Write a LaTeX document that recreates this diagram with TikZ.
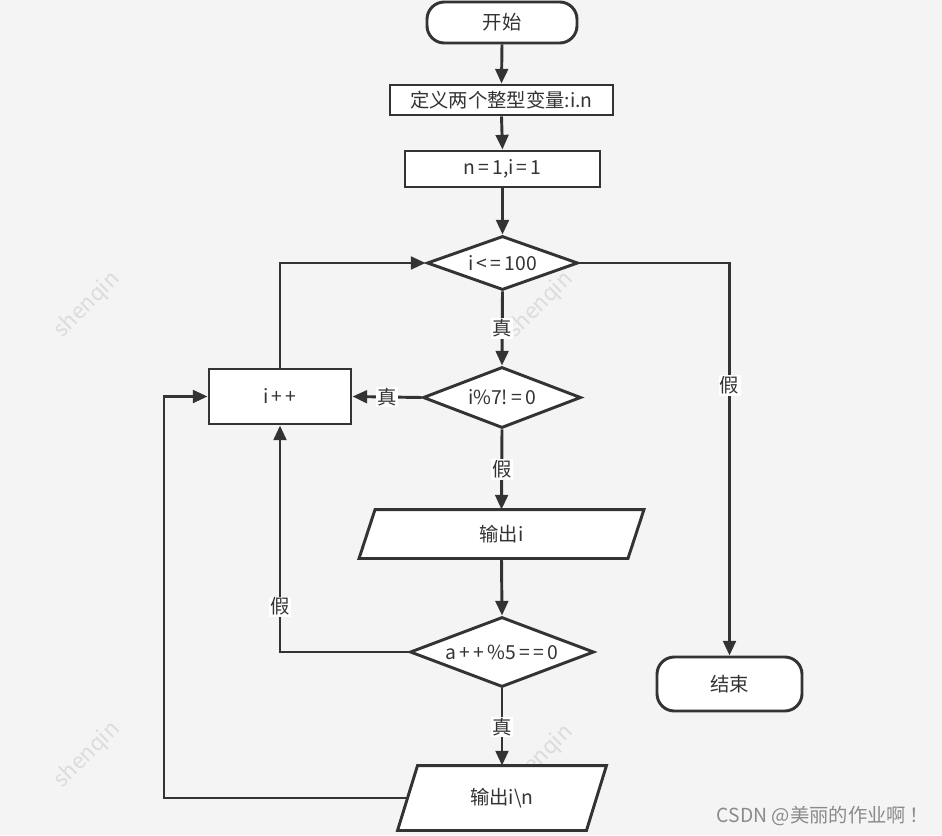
\documentclass[tikz,border=0pt]{standalone}
\usepackage{fontspec}
\setmainfont{Noto Sans CJK SC}
\usetikzlibrary{arrows.meta,shapes.geometric}
\definecolor{bgc}{HTML}{F4F4F4}
\definecolor{ink}{HTML}{333333}
\definecolor{wm}{HTML}{DCDCDC}
\definecolor{csdn}{HTML}{8A8A8A}
\pgfdeclarelayer{back}
\pgfsetlayers{back,main}
\tikzset{
 base/.style={draw=ink, line width=2.2pt, fill=white, text=ink, font=\fontsize{14.5}{17}\selectfont, inner sep=0pt},
 term/.style={base, rectangle, rounded corners=13pt},
 proc/.style={base, rectangle},
 dec/.style={base, diamond, aspect=3},
 io/.style={base, draw=none, fill=none, rectangle},
 para/.style={draw=ink, line width=2.2pt, fill=white, line join=miter},
 conn/.style={draw=ink, line width=2.2pt, -{Triangle[length=11pt,width=9.5pt]}},
 lab/.style={fill=white, text=ink, font=\fontsize{14.5}{17}\selectfont, inner sep=1pt},
 wmark/.style={text=wm, font=\fontsize{16.5}{18}\selectfont, rotate=45},
}
\begin{document}
\begin{tikzpicture}[x=0.75pt,y=-0.75pt]
\begin{pgfonlayer}{back}
  \fill[bgc] (0,0) rectangle (942,835);
  \node[wmark] (w1) at (87,305) {shenqin};
  \node[wmark] (w2) at (540,305) {shenqin};
  \node[wmark] (w3) at (87,755) {shenqin};
  \node[wmark] (w4) at (540,758) {shenqin};
\end{pgfonlayer}
\useasboundingbox (0,0) rectangle (942,835);

\node[term, minimum width=112.5pt, minimum height=30.75pt] (start) at (502,22.5) {开始};
\node[proc, minimum width=167.25pt, minimum height=22.5pt] (def) at (501.5,100) {定义两个整型变量:i.n};
\node[proc, minimum width=146.25pt, minimum height=27pt] (init) at (502.5,169) {n\,=\,1,i\,=\,1};
\node[dec, minimum width=113.25pt, minimum height=40.5pt] (d1) at (502.5,263) {i\,<\,=\,100};
\node[dec, minimum width=118.5pt, minimum height=45.75pt] (d2) at (502,397.5) {i\%7!\,=\,0};
\node[proc, minimum width=106.5pt, minimum height=41.25pt] (inc) at (280,396.5) {i\,+\,+};
\node[io, minimum width=199.5pt, minimum height=34.5pt] (out1) at (501.5,534) {输出i};
\node[dec, minimum width=138pt, minimum height=52.5pt] (d3) at (502,652) {a\,+\,+\,\%5\,=\,=\,0};
\node[io, minimum width=139.5pt, minimum height=46.5pt] (out2) at (502,798) {输出i\textbackslash n};
\node[term, minimum width=108.75pt, minimum height=40.5pt] (end) at (729.5,684) {结束};
\node[anchor=east, text=csdn, font=\fontsize{14.5}{17}\selectfont, inner sep=0pt] (mark) at (929,816) {CSDN @美丽的作业啊\,！};

\begin{pgfonlayer}{back}
  \draw[para] ([shift={(8,0)}]out1.north west) -- ([shift={(8,0)}]out1.north east)
    -- ([shift={(-8,0)}]out1.south east) -- ([shift={(-8,0)}]out1.south west) -- cycle;
  \draw[para] ([shift={(10,0)}]out2.north west) -- ([shift={(10,0)}]out2.north east)
    -- ([shift={(-10,0)}]out2.south east) -- ([shift={(-10,0)}]out2.south west) -- cycle;
\end{pgfonlayer}

\coordinate (lx) at (164,0);

\draw[conn] (start.south) -- (def.north);
\draw[conn] (def.south) -- (init.north);
\draw[conn] (init.south) -- (d1.north);
\draw[conn] (d1.south) -- node[lab] {真} (d2.north);
\draw[conn] (d2.west) -- node[lab] {真} (inc.east);
\draw[conn] (inc.north) |- (d1.west);
\draw[conn] (d2.south) -- node[lab] {假} (out1.north);
\draw[conn] (out1.south) -- (d3.north);
\draw[conn] (d3.west) -| node[lab, pos=0.6] {假} (inc.south);
\draw[conn] (d3.south) -- node[lab] {真} (out2.north);
\draw[conn] (out2.west) -- (out2.west -| lx) |- (inc.west);
\draw[conn] (d1.east) -| node[lab, pos=0.656] {假} (end.north);
\end{tikzpicture}
\end{document}
